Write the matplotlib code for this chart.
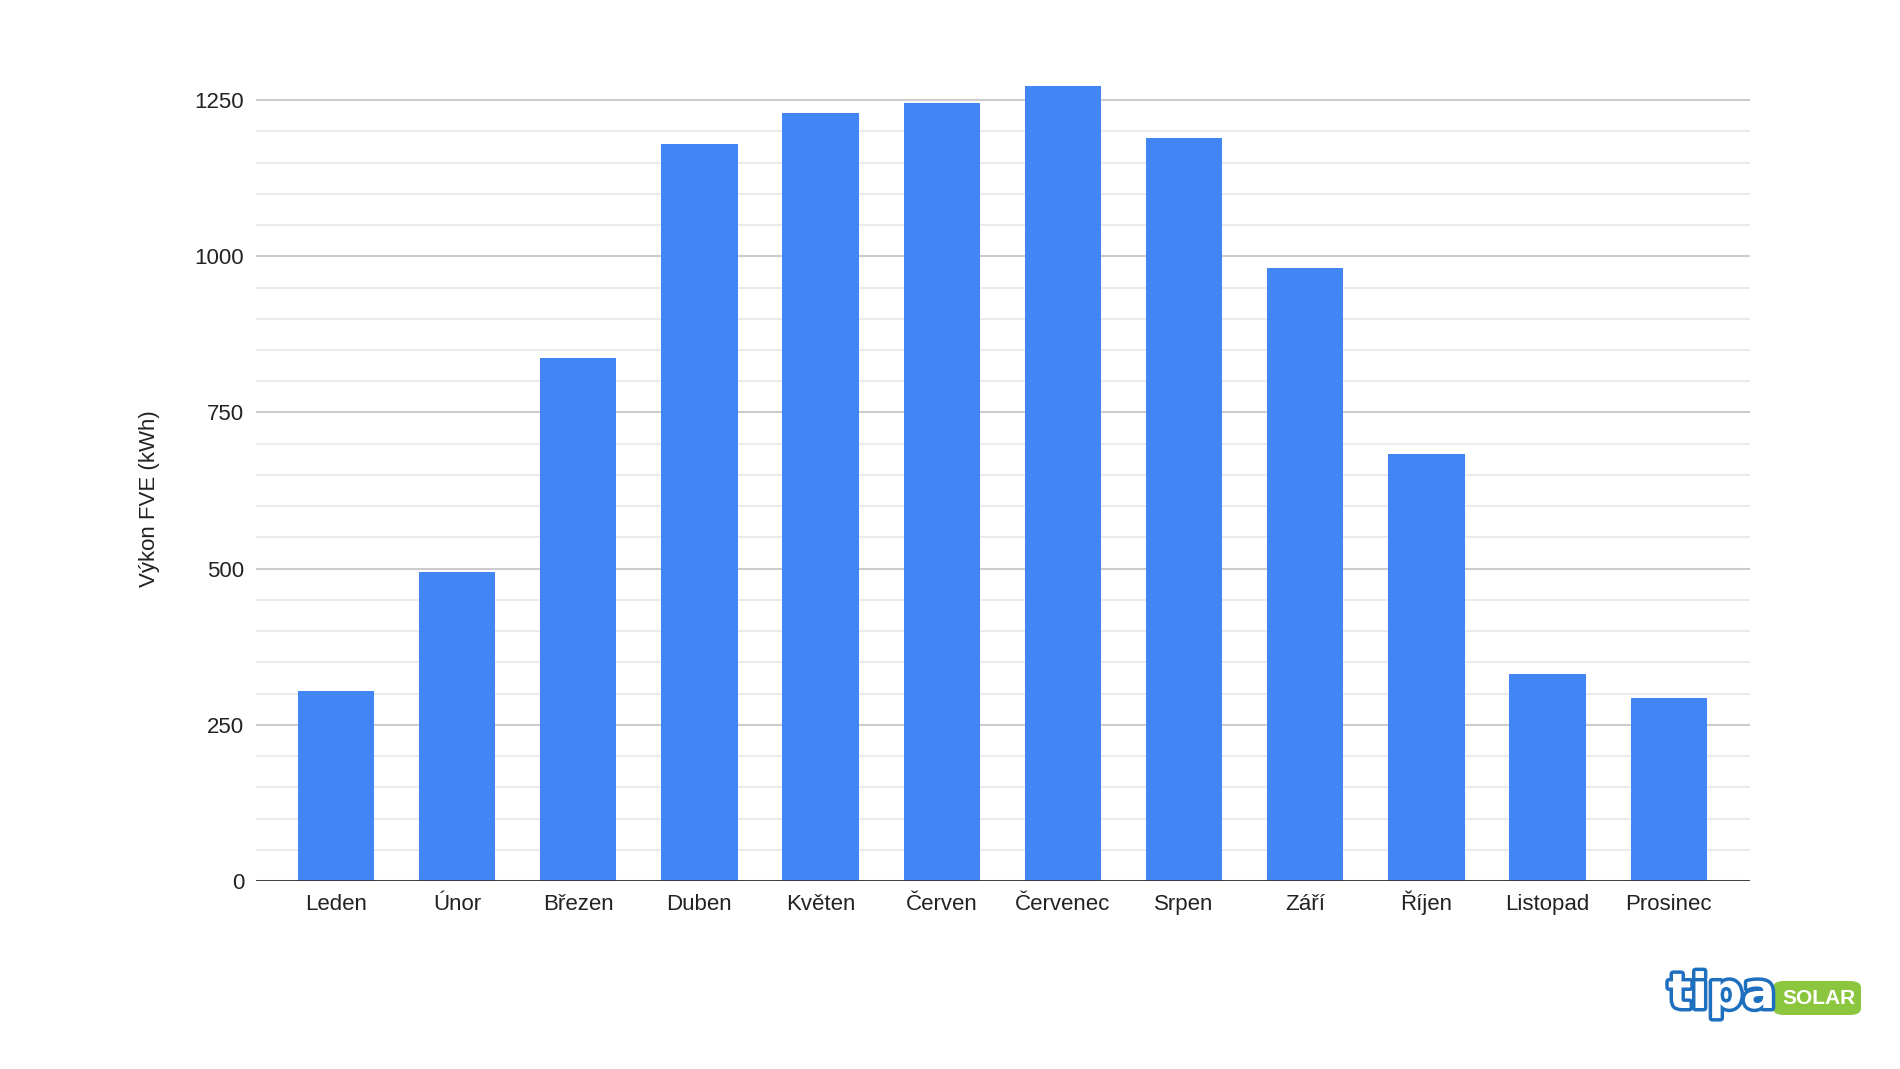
import matplotlib
matplotlib.use("Agg")
import matplotlib.pyplot as plt
import matplotlib.patheffects as pe
from matplotlib.patches import FancyBboxPatch
from matplotlib.ticker import MultipleLocator

months = ["Leden", "Únor", "Březen", "Duben", "Květen", "Červen",
          "Červenec", "Srpen", "Září", "Říjen", "Listopad", "Prosinec"]
values = [304, 494, 837, 1180, 1229, 1246, 1273, 1190, 981, 684, 331, 293]
y_ticks = [0, 250, 500, 750, 1000, 1250]
y_label = "Výkon FVE (kWh)"

plt.rcParams['font.family'] = ['Liberation Sans', 'DejaVu Sans']

fig = plt.figure(figsize=(19, 10.69), dpi=100)
ax = fig.add_axes([0.1347, 0.1759, 0.7863, 0.7596 * 1290 / 1300])

x = list(range(len(months)))
ax.bar(x, values, width=0.63, color="#4285F4", zorder=3)

ax.set_xlim(-0.66, 11.67)
ax.set_ylim(0, 1290)
ax.set_yticks(y_ticks)
ax.yaxis.set_minor_locator(MultipleLocator(50))
ax.grid(axis='y', which='major', color='#cccccc', linewidth=1.5, zorder=0)
ax.grid(axis='y', which='minor', color='#ebebeb', linewidth=1.5, zorder=0)
ax.axhline(0, color='#333333', linewidth=2, zorder=4)

for s in ax.spines.values():
    s.set_visible(False)
ax.tick_params(axis='both', which='both', length=0)
ax.tick_params(axis='y', pad=8.5, labelsize=16, labelcolor='#222222')
ax.tick_params(axis='x', pad=21, labelsize=16, labelcolor='#222222')
ax.set_xticks(x)
ax.set_xticklabels(months)
for lab in ax.get_xticklabels():
    lab.set_verticalalignment('baseline')

fig.text(150 / 1900, 1 - 499 / 1069, y_label, rotation=90, ha='center', va='center',
         fontsize=16, color='#222222')

# logo
box = FancyBboxPatch((1773 / 1900, 1 - 1015 / 1069), 88 / 1900, 34 / 1069,
                     boxstyle="round,pad=0,rounding_size=0.006",
                     transform=fig.transFigure, facecolor='#8cc63f', edgecolor='none')
fig.add_artist(box)
fig.text(1819 / 1900, 1 - 999 / 1069, "SOLAR", ha='center', va='center',
         fontsize=15, fontweight='bold', color='white')
t = fig.text(1722 / 1900, 1 - 994 / 1069, "tipa", ha='center', va='center',
             fontsize=35, fontweight='bold', color='white', family='DejaVu Sans')
t.set_path_effects([pe.Stroke(linewidth=5, foreground='#1f6fbf'), pe.Normal()])

fig.savefig("out.png", dpi=100, facecolor='white')
